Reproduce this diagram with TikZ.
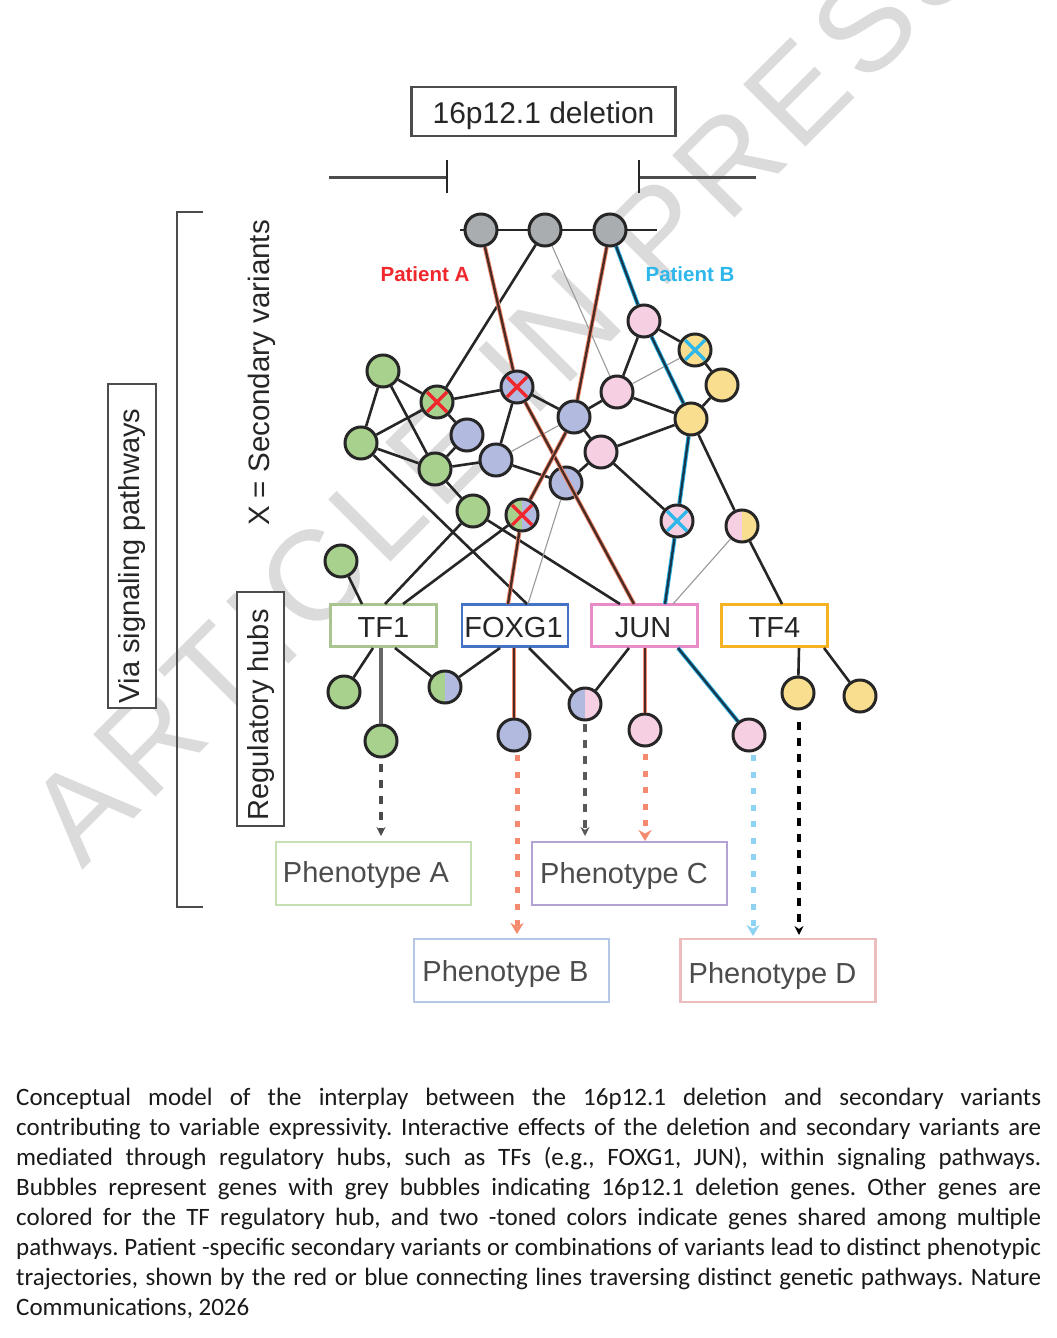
\documentclass[tikz,border=0pt]{standalone}
\usepackage{fontspec}
\setmainfont{Liberation Sans}
\newfontfamily\capfont{Carlito}
\newfontfamily\wmfont[LetterSpace=7]{Liberation Sans}
\usetikzlibrary{arrows.meta,calc}
\newcommand\fsz[1]{\fontsize{#1}{#1}\selectfont}
\definecolor{gr}{HTML}{A9ADB0}
\definecolor{pk}{HTML}{F6CFE2}
\definecolor{ye}{HTML}{F8DE8E}
\definecolor{bl}{HTML}{B2BADF}
\definecolor{ge}{HTML}{A9D18E}
\definecolor{ink}{HTML}{262626}
\definecolor{wm}{HTML}{DBDBDB}
\definecolor{xred}{HTML}{F0282D}
\definecolor{xblue}{HTML}{2DB7EA}
\definecolor{salm}{HTML}{F58A6E}
\definecolor{skyb}{HTML}{8FD3F4}
\definecolor{corered}{HTML}{4A2C25}
\definecolor{coreblue}{HTML}{17394F}
\definecolor{hubg}{HTML}{A9C48F}
\definecolor{hubb}{HTML}{4472C4}
\definecolor{hubp}{HTML}{E88CC8}
\definecolor{huby}{HTML}{F5B324}
\definecolor{phA}{HTML}{C6DFB5}
\definecolor{phB}{HTML}{B4C7E7}
\definecolor{phC}{HTML}{B3A2D2}
\definecolor{phD}{HTML}{EDBDBD}
\tikzset{
  x=1pt,y=-1pt,
  gene/.style={circle,draw=ink,line width=3pt,minimum size=32pt,inner sep=0pt},
  twotone/.style 2 args={path picture={
    \fill[#1] (path picture bounding box.south west) rectangle (path picture bounding box.north);
    \fill[#2] (path picture bounding box.south) rectangle (path picture bounding box.north east);}},
  lnk/.style={draw=ink,line width=2.6pt},
  thin link/.style={draw=gray!80,line width=1.1pt},
  redp/.style={draw=salm,double=corered,line width=.9pt,double distance=2.4pt},
  blup/.style={draw=xblue,double=coreblue,line width=.9pt,double distance=2.4pt},
  hub/.style={draw=#1,line width=2.8pt,fill=white,minimum width=106pt,minimum height=42pt,inner sep=0pt,text=ink,font=\fsz{29},text height=30pt,text depth=6pt},
  pheno/.style={draw=#1,line width=2.4pt,fill=white,minimum width=195pt,minimum height=63pt,inner sep=0pt,text=black!70,font=\fsz{29},text height=30pt},
  labbox/.style={draw=black!70,line width=2.8pt,fill=white,inner sep=0pt,text=ink},
  softarrow/.style={draw=#1,line width=5pt,dash pattern=on 6pt off 10.5pt,-{Stealth[length=11pt,width=13pt,#1]}},
  hardarrow/.style={draw=#1,line width=3.8pt,dash pattern=on 8pt off 8pt,-{Stealth[length=9pt,width=9pt,#1]}},
  bar/.style={draw=black!70,line width=3pt},
  tickbar/.style={draw=ink,line width=2.2pt},
}
\begin{document}
\begin{tikzpicture}
\clip (0,0) rectangle (1057,1338);
\fill[white] (0,0) rectangle (1057,1338);
% watermark
\node[anchor=base west,rotate=45,text=wm,inner sep=0pt,font=\wmfont\fsz{128}] (wmk) at (82,871) {ARTICLE IN PRESS};
% deletion bar
\node[labbox,minimum width=264pt,minimum height=49pt,font=\fsz{30},text height=30pt,text depth=6.6pt] (del) at (543.5,111.5) {16p12.1 deletion};
\coordinate (la) at (329,177); \coordinate (lb) at (447,177);
\coordinate (lc) at (639,177); \coordinate (ld) at (756,177);
\coordinate (ta) at (447,160); \coordinate (tb) at (447,193);
\coordinate (tc) at (639,160); \coordinate (td) at (639,193);
\draw[bar] (la) -- (lb); \draw[bar] (lc) -- (ld);
\draw[tickbar] (ta) -- (tb); \draw[tickbar] (tc) -- (td);
\coordinate (ca) at (460,230); \coordinate (cb) at (657,230);
\draw[lnk] (ca) -- (cb);
% bracket
\coordinate (ba) at (203,212); \coordinate (bb) at (177,212); \coordinate (bc) at (177,907); \coordinate (bd) at (203,907);
\draw[draw=black!70,line width=2.4pt] (ba) -- (bb) -- (bc) -- (bd);
% side labels
\node[labbox,rotate=90,minimum width=324pt,minimum height=48pt,font=\fsz{29}] (via) at (132,546) {Via signaling pathways\hspace*{20pt}};
\node[labbox,rotate=90,minimum width=234pt,minimum height=47pt,font=\fsz{29}] (reg) at (260.5,709) {Regulatory hubs\hspace*{12pt}};
\node[rotate=90,text=ink,inner sep=0pt,font=\fsz{29.5}] (sec) at (262,373) {X = Secondary variants};
\node[text=xred,inner sep=0pt,font=\bfseries\fsz{20.5}] (pa) at (425,274) {Patient A};
\node[text=xblue,inner sep=0pt,font=\bfseries\fsz{20.5}] (pb) at (690,274) {Patient B};
% hubs
\node[hub=hubg] (tf1) at (383.5,625.5) {TF1};
\node[hub=hubb] (fox) at (515,625.5) {\hspace*{-3pt}FOXG1};
\node[hub=hubp] (jun) at (644.5,625.5) {\hspace*{-3pt}JUN};
\node[hub=huby] (tf4) at (774.5,625.5) {TF4};
% phenotypes
\node[pheno=phA,text depth=12pt] (pha) at (373.5,873.5) {\hspace*{-15pt}Phenotype A};
\node[pheno=phC,text depth=10pt] (phc) at (629.5,873.5) {\hspace*{-11pt}Phenotype C};
\node[pheno=phB,text depth=8pt] (phb) at (511.5,970.5) {\hspace*{-12pt}Phenotype B};
\node[pheno=phD,text depth=4pt] (phd) at (778,970.5) {\hspace*{-11pt}Phenotype D};
% genes
\foreach \n/\xx/\yy/\c in {g1/481/230/gr,g2/545/230/gr,g3/610/230/gr,
  p1/644/321/pk,yx/695/350/ye,y1/722/385/ye,p2/617/392/pk,y2/691/419/ye,
  bx/517/387/bl,gx/437/402/ge,a1/383/371/ge,a2/361/443/ge,b1/467/435/bl,
  b2/574/417/bl,b3/496/460/bl,a3/435/469/ge,p3/601/452/pk,b4/566/483/bl,
  a4/473/511/ge,a5/341/561/ge,
  c1/344/692/ge,c2/381/741/ge,d2/514/735/bl,e2/645/730/pk,e3/749/735/pk,f1/798/693/ye,f2/860/696/ye}
  {\node[gene,fill=\c] (\n) at (\xx,\yy) {};}
\node[gene,twotone={ge}{bl}] (gbx) at (522,515) {};
\node[gene,fill=pk] (px) at (677,521) {};
\node[gene,twotone={pk}{ye}] (py) at (742,526) {};
\node[gene,twotone={ge}{bl}] (c3) at (445,687) {};
\node[gene,twotone={bl}{pk}] (d3) at (585,704) {};
% X marks
\foreach \n/\c in {bx/xred,gx/xred,gbx/xred,yx/xblue,px/xblue}
  \draw[\c,line width=3.2pt] ($(\n)+(-10,-10)$) -- ($(\n)+(10,10)$) ($(\n)+(-10,10)$) -- ($(\n)+(10,-10)$);
% black links
\foreach \u/\v in {g2/gx,p1/yx,p1/p2,yx/y1,y1/y2,p2/y2,p2/b2,gx/bx,bx/b2,a1/gx,a1/a2,a1/a3,a2/gx,gx/b1,
  b1/a3,b3/bx,a2/a3,a3/b3,b3/b4,b2/p3,b4/p3,p3/y2,p3/px,y2/py,a3/a4}
  \draw[lnk] (\u) -- (\v);
\foreach \u/\v in {g2/p2,yx/p2,b3/b2}
  \draw[thin link] (\u) -- (\v);
% links to hubs
\coordinate (t1) at (362,604); \coordinate (t2) at (385,604); \coordinate (t3) at (403,604);
\coordinate (f1t) at (508,604); \coordinate (f2t) at (528,604); \coordinate (f3t) at (527,604);
\coordinate (j1t) at (620,604); \coordinate (j2t) at (634,604); \coordinate (j3t) at (665,604); \coordinate (j4t) at (673,604);
\coordinate (t4t) at (782,604);
\draw[lnk] (a5) -- (t1);
\draw[lnk] (a4) -- (t2);
\draw[lnk] (gbx) -- (t3);
\draw[lnk] (a2) -- (f3t);
\draw[lnk] (a4) -- (j1t);
\draw[lnk] (py) -- (t4t);
\draw[thin link] (b4) -- (f2t);
\draw[thin link] (py) -- (j4t);
% patient paths
\draw[redp] (g1) -- (bx);
\draw[redp] (bx) -- (j2t);
\draw[redp] (g3) -- (b2);
\draw[redp] (b2) -- (gbx);
\draw[redp] (gbx) -- (f1t);
\draw[blup] (g3) -- (p1);
\draw[blup] (p1) -- (y2);
\draw[blup] (y2) -- (px);
\draw[blup] (px) -- (j3t);
% below hubs
\coordinate (s1) at (373,648); \coordinate (s2) at (381,648); \coordinate (s3) at (395,648);
\coordinate (s4) at (500,648); \coordinate (s5) at (514,648); \coordinate (s6) at (529,648);
\coordinate (s7) at (629,648); \coordinate (s8) at (645,648); \coordinate (s9) at (678,648);
\coordinate (s10) at (799,648); \coordinate (s11) at (824,648);
\draw[lnk] (s1) -- (c1);
\draw[draw=black!60,line width=3.4pt] (s2) -- (c2);
\draw[lnk] (s3) -- (c3);
\draw[lnk] (s4) -- (c3);
\draw[lnk] (s6) -- (d3);
\draw[lnk] (s7) -- (d3);
\draw[redp] (s5) -- (d2);
\draw[redp] (s8) -- (e2);
\draw[blup] (s9) -- (e3);
\draw[lnk] (s10) -- (f1);
\draw[lnk] (s11) -- (f2);
% phenotype arrows
\coordinate (q1) at (381,764); \coordinate (q1e) at (381,836);
\coordinate (q2) at (517,755); \coordinate (q2e) at (517,934);
\coordinate (q3) at (585,724); \coordinate (q3e) at (585,836);
\coordinate (q4) at (645,754); \coordinate (q4e) at (645,841);
\coordinate (q5) at (753,755); \coordinate (q5e) at (753,936);
\coordinate (q6) at (799,722); \coordinate (q6e) at (799,935);
\draw[hardarrow=black!70] (q1) -- (q1e);
\draw[softarrow=salm] (q2) -- (q2e);
\draw[hardarrow=black!65] (q3) -- (q3e);
\draw[softarrow=salm] (q4) -- (q4e);
\draw[softarrow=skyb] (q5) -- (q5e);
\draw[hardarrow=black] (q6) -- (q6e);
% caption
\node[anchor=north west,inner sep=0pt,text width=1025pt,align=justify,text=black!90,font=\capfont\fsz{25}] (cap) at (16,1088) {\frenchspacing\baselineskip=30pt
Conceptual model of the interplay between the 16p12.1 deletion and secondary variants\linebreak
contributing to variable expressivity. Interactive effects of the deletion and secondary variants are\linebreak
mediated through regulatory hubs, such as TFs (e.g., FOXG1, JUN), within signaling pathways.\linebreak
Bubbles represent genes with grey bubbles indicating 16p12.1 deletion genes. Other genes are\linebreak
colored for the TF regulatory hub, and two -toned colors indicate genes shared among multiple\linebreak
pathways. Patient -specific secondary variants or combinations of variants lead to distinct phenotypic\linebreak
trajectories, shown by the red or blue connecting lines traversing distinct genetic pathways. Nature\linebreak
Communications, 2026\par};
\end{tikzpicture}
\end{document}
